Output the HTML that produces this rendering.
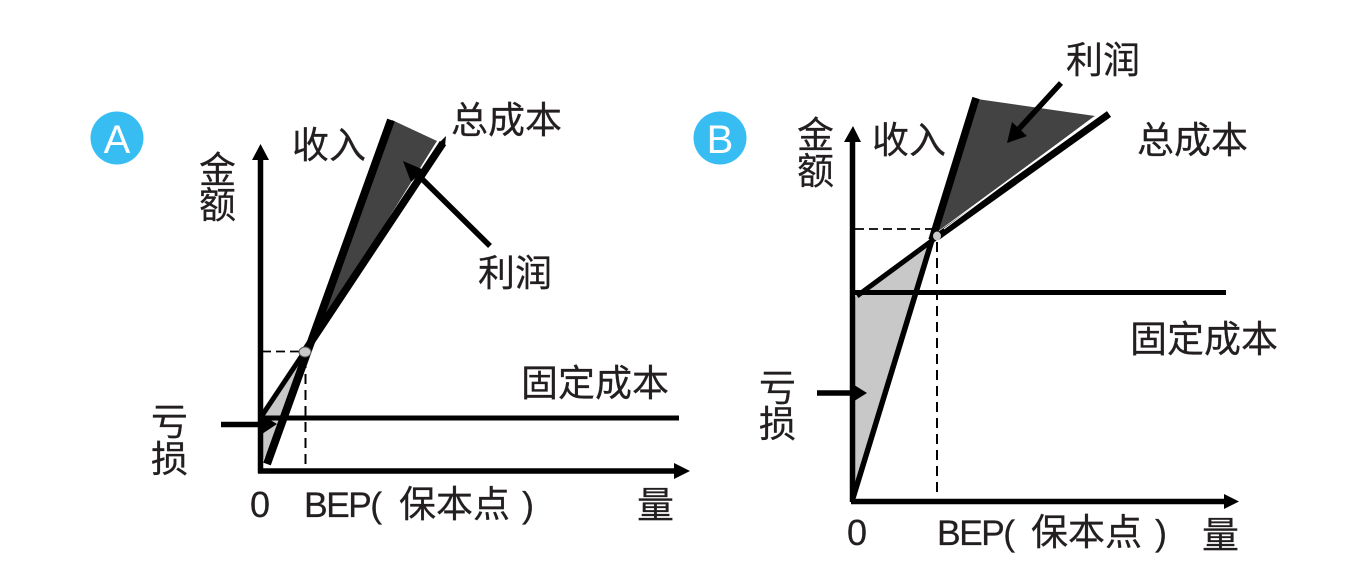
<!DOCTYPE html>
<html><head><meta charset="utf-8"><style>
html,body{margin:0;padding:0;background:#fff}
svg{display:block}
text{font-family:"Liberation Sans","Noto Sans CJK SC",sans-serif;fill:#231f20;font-size:37px;stroke:#231f20;stroke-width:.25px}
.n{font-size:35.5px;letter-spacing:-1.6px}
.c{font-size:37px}
.f{font-size:37px}
</style></head><body>
<svg width="1361" height="585" viewBox="0 0 1361 585" xmlns="http://www.w3.org/2000/svg">
<rect width="1361" height="585" fill="#fff"/>
<!-- A -->
<circle cx="117" cy="138" r="26.5" fill="#38bdf3"/>
<text x="117" y="153" text-anchor="middle" style="fill:#fff;stroke:none;font-size:40px">A</text>
<polygon points="261,417 305,350 274,440 262,462" fill="#c8c8c8"/>
<polygon points="392,120 437,141 306,350" fill="#434343"/>
<g stroke="#000" fill="none">
<line x1="260.5" y1="473" x2="260.5" y2="155" stroke-width="5.5"/>
<line x1="258" y1="471" x2="680" y2="471" stroke-width="5.5"/>
<line x1="260" y1="418" x2="679" y2="418" stroke-width="5"/>
<line x1="262" y1="351.5" x2="301" y2="351.5" stroke-width="1.8" stroke-dasharray="9 5"/>
<line x1="305.5" y1="358" x2="305.5" y2="470" stroke-width="2" stroke-dasharray="10 6"/>
<line x1="261" y1="417" x2="305" y2="351" stroke-width="5"/>
<line x1="305" y1="351" x2="443" y2="143" stroke-width="7.5"/>
<line x1="267" y1="464" x2="391" y2="120" stroke-width="8"/>
<line x1="221" y1="424.5" x2="265" y2="424.5" stroke-width="5.5"/>
<line x1="490" y1="246" x2="415" y2="172" stroke-width="5.5"/>
</g>
<polygon points="440,142 446,136 445,146 438,146" fill="#000"/>
<polygon points="260.5,144 252,160 269,160" fill="#000"/>
<polygon points="690,471 674,463 674,479" fill="#000"/>
<polygon points="277,424 262,415 262,434" fill="#000"/>
<polygon points="403,161 411,182 424,170" fill="#000"/>
<line x1="437" y1="142" x2="422" y2="166" stroke="#fff" stroke-width="1"/>
<ellipse cx="305" cy="352" rx="6" ry="5" fill="#c8c8c8" stroke="#555" stroke-width="1"/>
<text x="292" y="158">收入</text>
<text x="451" y="133">总成本</text>
<text x="478" y="286">利润</text>
<text x="199" y="183">金</text>
<text x="199" y="218">额</text>
<text x="521" y="396" class="f">固定成本</text>
<text x="151" y="435">亏</text>
<text x="151" y="472">损</text>
<text x="250" y="517" style="font-size:36px">0</text>
<text x="304" y="517" class="n">BEP(</text>
<text x="399" y="517" class="c">保本点</text>
<text x="522" y="517" style="font-size:36px">)</text>
<text x="637" y="518">量</text>
<!-- B -->
<circle cx="720" cy="138" r="26.5" fill="#38bdf3"/>
<text x="720" y="153" text-anchor="middle" style="fill:#fff;stroke:none;font-size:40px">B</text>
<polygon points="854,298 935,238 852,498" fill="#c8c8c8"/>
<polygon points="977,99 1095,116 937,232" fill="#434343"/>
<g stroke="#000" fill="none">
<line x1="852.5" y1="502" x2="852.5" y2="138" stroke-width="5.5"/>
<line x1="851" y1="501.5" x2="1228" y2="501.5" stroke-width="5.5"/>
<line x1="853" y1="292.5" x2="1226" y2="292.5" stroke-width="5"/>
<line x1="855" y1="229" x2="932" y2="229" stroke-width="1.8" stroke-dasharray="9 5"/>
<line x1="937" y1="242" x2="937" y2="492" stroke-width="2" stroke-dasharray="10 6"/>
<line x1="857" y1="296" x2="937" y2="237" stroke-width="5"/>
<line x1="937" y1="237" x2="1109" y2="114" stroke-width="7"/>
<line x1="853" y1="498" x2="932" y2="240" stroke-width="5.5"/>
<line x1="932" y1="240" x2="976" y2="98" stroke-width="7.5"/>
<line x1="817" y1="393" x2="855" y2="393" stroke-width="5.5"/>
<line x1="1061" y1="83" x2="1017" y2="131" stroke-width="5.5"/>
</g>
<polygon points="853,126 844,142 861,142" fill="#000"/>
<polygon points="1239,501.5 1224,494 1224,509" fill="#000"/>
<polygon points="867,393 851,383 851,403" fill="#000"/>
<polygon points="1007,143 1012,122 1027,136" fill="#000"/>
<line x1="1094" y1="117" x2="944" y2="229" stroke="#fff" stroke-width="1"/>
<ellipse cx="937" cy="236" rx="4" ry="4.5" fill="#c8c8c8"/>
<text x="872" y="153">收入</text>
<text x="1066" y="73">利润</text>
<text x="1137" y="153">总成本</text>
<text x="797" y="148">金</text>
<text x="797" y="184">额</text>
<text x="1130" y="352" class="f">固定成本</text>
<text x="759" y="401">亏</text>
<text x="759" y="437">损</text>
<text x="847" y="545" style="font-size:36px">0</text>
<text x="937" y="545" class="n">BEP(</text>
<text x="1031" y="545" class="c">保本点</text>
<text x="1155" y="545" style="font-size:36px">)</text>
<text x="1202" y="548">量</text>
</svg>
</body></html>
